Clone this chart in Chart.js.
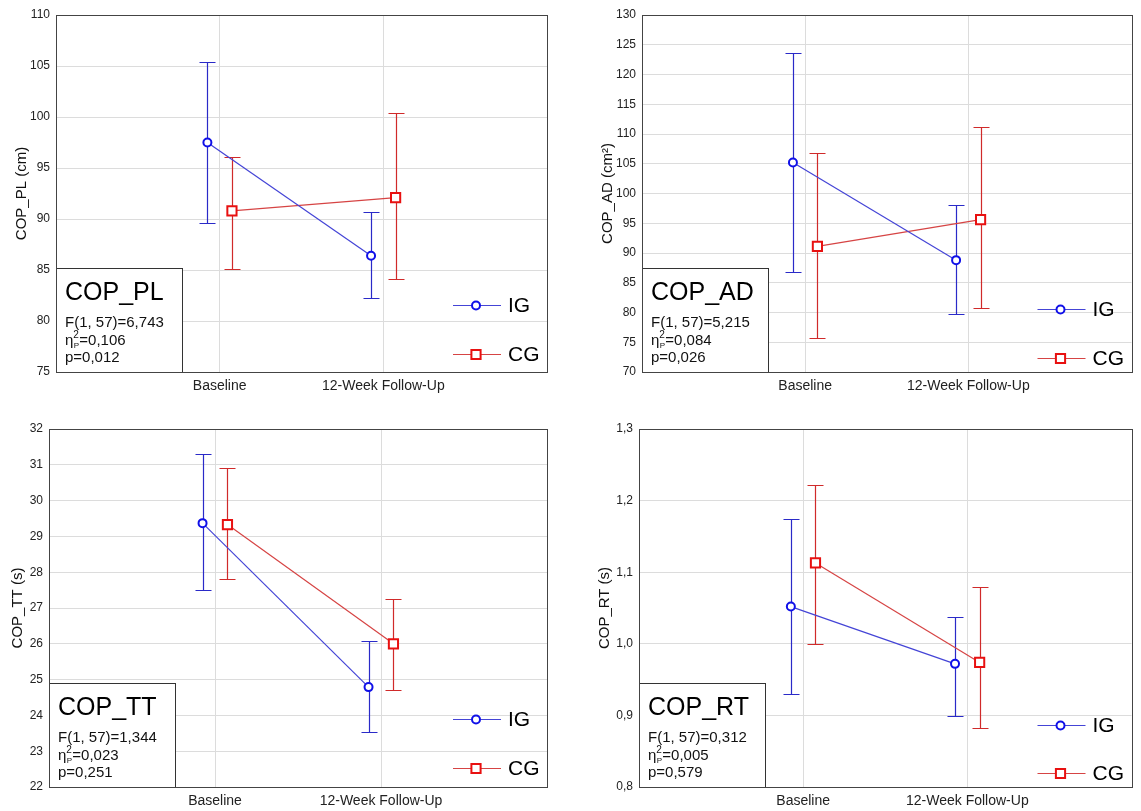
<!DOCTYPE html>
<html>
<head>
<meta charset="utf-8">
<script src="https://cdn.jsdelivr.net/npm/chart.js@4.4.1/dist/chart.umd.min.js"></script>
<style>
body { margin: 0; background: #fff; }
#wrap { position: relative; width: 1141px; height: 811px; }
canvas { position: absolute; }
</style>
</head>
<body>
<div id="wrap">
<canvas id="c1" width="570" height="405" style="left:0;top:0"></canvas>
<canvas id="c2" width="570" height="405" style="left:570px;top:0"></canvas>
<canvas id="c3" width="570" height="405" style="left:0;top:405px"></canvas>
<canvas id="c4" width="570" height="405" style="left:570px;top:405px"></canvas>
</div>
<script>
var categories = ['Baseline', '12-Week Follow-Up'];
var groups = ['IG', 'CG'];

// COP_PL
var plIG = [97.5, 86.4], plIGlow = [89.6, 82.3], plIGhigh = [105.4, 90.7];
var plCG = [90.8, 92.1], plCGlow = [85.1, 84.1], plCGhigh = [96.1, 100.4];
var plStats = ['F(1, 57)=6,743', '=0,106', 'p=0,012'];

// COP_AD
var adIG = [105.2, 88.8], adIGlow = [86.8, 79.8], adIGhigh = [123.6, 98.0];
var adCG = [91.1, 95.6], adCGlow = [75.7, 80.7], adCGhigh = [106.8, 111.2];
var adStats = ['F(1, 57)=5,215', '=0,084', 'p=0,026'];

// COP_TT
var ttIG = [29.37, 24.79], ttIGlow = [27.5, 23.53], ttIGhigh = [31.3, 26.09];
var ttCG = [29.33, 26.0], ttCGlow = [27.8, 24.72], ttCGhigh = [30.91, 27.26];
var ttStats = ['F(1, 57)=1,344', '=0,023', 'p=0,251'];

// COP_RT
var rtIG = [1.052, 0.972], rtIGlow = [0.930, 0.899], rtIGhigh = [1.175, 1.038];
var rtCG = [1.113, 0.974], rtCGlow = [1.000, 0.882], rtCGhigh = [1.222, 1.079];
var rtStats = ['F(1, 57)=0,312', '=0,005', 'p=0,579'];

var lineColors = ['#4444d6', '#d64444'];
var markerColors = ['#1010e8', '#e81010'];
var errColors = ['#2a2ac8', '#d02a2a'];
var pointStyles = ['circle', 'rect'];
var pointRadii = [4, 6.5];
var offsets = [-0.075, 0.075];

Chart.defaults.font.family = '"Liberation Sans", Arial, sans-serif';

var panels = [
    { id: 'c1', name: 'COP_PL', yLabel: 'COP_PL (cm)', min: 75, max: 110, step: 5, dec: 0,
      means: [plIG, plCG], lows: [plIGlow, plCGlow], highs: [plIGhigh, plCGhigh], stats: plStats,
      left: 56, right: 547, top: 15, bottom: 372, titleX: 22, legY: [67, 18] },
    { id: 'c2', name: 'COP_AD', yLabel: 'COP_AD (cm\u00B2)', min: 70, max: 130, step: 5, dec: 0,
      means: [adIG, adCG], lows: [adIGlow, adCGlow], highs: [adIGhigh, adCGhigh], stats: adStats,
      left: 72, right: 562, top: 15, bottom: 372, titleX: 38, legY: [63, 14] },
    { id: 'c3', name: 'COP_TT', yLabel: 'COP_TT (s)', min: 22, max: 32, step: 1, dec: 0,
      means: [ttIG, ttCG], lows: [ttIGlow, ttCGlow], highs: [ttIGhigh, ttCGhigh], stats: ttStats,
      left: 49, right: 547, top: 24, bottom: 382, titleX: 18, legY: [68, 19] },
    { id: 'c4', name: 'COP_RT', yLabel: 'COP_RT (s)', min: 0.8, max: 1.3, step: 0.1, dec: 1,
      means: [rtIG, rtCG], lows: [rtIGlow, rtCGlow], highs: [rtIGhigh, rtCGhigh], stats: rtStats,
      left: 69, right: 562, top: 24, bottom: 382, titleX: 35, legY: [62, 14] }
];

function drawMarker(ctx, style, r, x, y, color) {
    ctx.save();
    ctx.strokeStyle = color;
    ctx.fillStyle = '#fff';
    ctx.lineWidth = 2;
    ctx.beginPath();
    if (style == 'circle') {
        ctx.arc(x, y, r, 0, Math.PI * 2);
    } else {
        var s = r * Math.SQRT1_2;
        ctx.rect(x - s, y - s, 2 * s, 2 * s);
    }
    ctx.fill();
    ctx.stroke();
    ctx.restore();
}

var extras = {
    id: 'extras',
    beforeDatasetsDraw: function (chart) {
        var ctx = chart.ctx, xs = chart.scales.x, ys = chart.scales.y;
        ctx.save();
        ctx.lineWidth = 1.2;
        chart.data.datasets.forEach(function (ds, di) {
            ctx.strokeStyle = errColors[di];
            ds.data.forEach(function (pt, i) {
                var x = Math.round(xs.getPixelForValue(pt.x)) + 0.5;
                var y1 = Math.round(ys.getPixelForValue(ds.errHigh[i])) + 0.5;
                var y2 = Math.round(ys.getPixelForValue(ds.errLow[i])) + 0.5;
                ctx.beginPath();
                ctx.moveTo(x, y1); ctx.lineTo(x, y2);
                ctx.moveTo(x - 8, y1); ctx.lineTo(x + 8, y1);
                ctx.moveTo(x - 8, y2); ctx.lineTo(x + 8, y2);
                ctx.stroke();
            });
        });
        ctx.restore();
    },
    afterDatasetsDraw: function (chart) {
        var ctx = chart.ctx, a = chart.chartArea, p = chart.options.plugins.extras.panel;
        ctx.save();
        // stats box
        var bx = a.left + 0.5, by = a.bottom - 104 + 0.5;
        ctx.fillStyle = '#fff';
        ctx.fillRect(bx, by, 126, 104);
        ctx.strokeStyle = '#333';
        ctx.lineWidth = 1;
        ctx.strokeRect(bx, by, 126, 104);
        ctx.fillStyle = '#000';
        ctx.textBaseline = 'alphabetic';
        ctx.textAlign = 'left';
        var tx = a.left + 9;
        ctx.font = '25px "Liberation Sans", Arial, sans-serif';
        ctx.fillText(p.name, tx, by + 31);
        ctx.fillStyle = '#111';
        ctx.font = '15px "Liberation Sans", Arial, sans-serif';
        ctx.fillText(p.stats[0], tx, by + 58);
        ctx.fillText('\u03B7', tx, by + 76);
        var w = ctx.measureText('\u03B7').width;
        ctx.font = '10px "Liberation Sans", Arial, sans-serif';
        ctx.fillText('2', tx + w, by + 69);
        ctx.font = '8px "Liberation Sans", Arial, sans-serif';
        ctx.fillText('P', tx + w + 0.5, by + 79);
        ctx.font = '15px "Liberation Sans", Arial, sans-serif';
        ctx.fillText(p.stats[1], tx + w + 6, by + 76);
        ctx.fillText(p.stats[2], tx, by + 93);
        // plot frame
        ctx.strokeStyle = '#444';
        ctx.strokeRect(Math.round(a.left) + 0.5, Math.round(a.top) + 0.5,
            Math.round(a.right - a.left), Math.round(a.bottom - a.top));
        // legend
        groups.forEach(function (g, gi) {
            var y = a.bottom - p.legY[gi];
            ctx.strokeStyle = lineColors[gi];
            ctx.lineWidth = 1.2;
            ctx.beginPath();
            ctx.moveTo(a.right - 94, Math.round(y) + 0.5);
            ctx.lineTo(a.right - 46, Math.round(y) + 0.5);
            ctx.stroke();
            drawMarker(ctx, pointStyles[gi], pointRadii[gi], a.right - 71, Math.round(y) + 0.5, markerColors[gi]);
            ctx.fillStyle = '#000';
            ctx.font = '21px "Liberation Sans", Arial, sans-serif';
            ctx.textBaseline = 'middle';
            ctx.fillText(g, a.right - 39, y + 1);
        });
        ctx.restore();
    }
};

panels.forEach(function (p) {
    var ctx = document.getElementById(p.id);
    new Chart(ctx, {
        type: 'scatter',
        data: {
            datasets: groups.map(function (g, gi) {
                return {
                    label: g,
                    data: p.means[gi].map(function (v, i) { return { x: i + 1 + offsets[gi], y: v }; }),
                    errLow: p.lows[gi],
                    errHigh: p.highs[gi],
                    showLine: true,
                    tension: 0,
                    borderColor: lineColors[gi],
                    borderWidth: 1.2,
                    pointStyle: pointStyles[gi],
                    pointRadius: pointRadii[gi],
                    pointHoverRadius: pointRadii[gi],
                    pointBorderColor: markerColors[gi],
                    pointBackgroundColor: '#fff',
                    pointBorderWidth: 2
                };
            })
        },
        options: {
            responsive: false,
            animation: false,
            layout: { padding: { top: p.top, right: 570 - p.right, left: 0, bottom: 0 } },
            plugins: {
                legend: { display: false },
                tooltip: { enabled: false },
                extras: { panel: p }
            },
            scales: {
                x: {
                    type: 'linear', min: 0, max: 3,
                    afterBuildTicks: function (s) {
                        s.ticks = categories.map(function (c, i) { return { value: i + 1 }; });
                    },
                    afterFit: function (s) { s.height = 405 - p.bottom; },
                    ticks: {
                        font: { size: 14 }, color: '#222', padding: 6,
                        callback: function (v) { return categories[v - 1]; }
                    },
                    grid: { color: '#dcdcdc', drawTicks: false },
                    border: { display: false }
                },
                y: {
                    min: p.min, max: p.max,
                    afterFit: function (s) { s.width = p.left; },
                    ticks: {
                        stepSize: p.step, font: { size: 12 }, color: '#222', padding: 6,
                        callback: function (v) { return v.toFixed(p.dec).replace('.', ','); }
                    },
                    grid: { color: '#dcdcdc', drawTicks: false },
                    border: { display: false },
                    title: {
                        display: true, text: p.yLabel, color: '#111',
                        font: { size: 15 }, padding: { top: p.titleX - 9, bottom: 0 }
                    }
                }
            }
        },
        plugins: [extras]
    });
});
</script>
</body>
</html>
